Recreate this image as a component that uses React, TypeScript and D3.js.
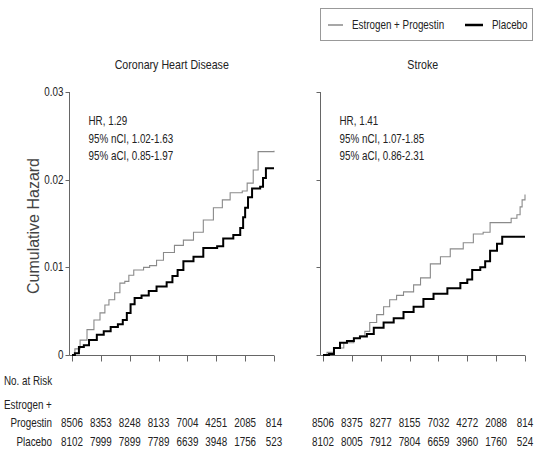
import React from 'react';
import * as d3 from 'd3';

// ---- Data (years, cumulative hazard) ----
const chdEstrogenProgestin: [number, number][] = [
  [0, 0], [0.1, 0.0007], [0.28, 0.0017], [0.52, 0.0029], [0.76, 0.004], [0.97, 0.0048],
  [1.14, 0.0057], [1.28, 0.0063], [1.48, 0.0071], [1.66, 0.0082], [1.83, 0.0084],
  [1.97, 0.0091], [2.14, 0.0097], [2.48, 0.01], [2.69, 0.0102], [2.93, 0.0108],
  [3.17, 0.0117], [3.55, 0.0125], [3.86, 0.0131], [4.21, 0.014], [4.55, 0.0154],
  [4.9, 0.0168], [5.21, 0.0177], [5.48, 0.0185], [5.9, 0.0187], [6.07, 0.0196],
  [6.28, 0.0211], [6.45, 0.0232], [7.0, 0.0233],
];
const chdPlacebo: [number, number][] = [
  [0, 0], [0.1, 0.0002], [0.24, 0.0009], [0.41, 0.0011], [0.59, 0.0017], [0.86, 0.0023],
  [1.1, 0.0027], [1.34, 0.0032], [1.59, 0.0035], [1.76, 0.004], [1.9, 0.0048],
  [2.03, 0.0058], [2.17, 0.0065], [2.41, 0.0068], [2.66, 0.0073], [2.93, 0.0078],
  [3.28, 0.0083], [3.48, 0.009], [3.66, 0.0097], [3.86, 0.0107], [4.21, 0.0112],
  [4.55, 0.0122], [5.03, 0.0124], [5.24, 0.0133], [5.59, 0.0137], [5.83, 0.0145],
  [5.93, 0.0157], [6.0, 0.0168], [6.1, 0.018], [6.24, 0.019], [6.52, 0.0192],
  [6.62, 0.0202], [6.72, 0.0213], [7.0, 0.0213],
];
const strokeEstrogenProgestin: [number, number][] = [
  [0, 0], [0.14, 0.0003], [0.38, 0.0008], [0.72, 0.0014], [1.07, 0.0019], [1.28, 0.0022],
  [1.45, 0.0027], [1.62, 0.0037], [1.86, 0.0046], [2.1, 0.0055], [2.31, 0.0063],
  [2.55, 0.0068], [2.79, 0.0072], [3.14, 0.008], [3.38, 0.0088], [3.72, 0.0104],
  [4.07, 0.0112], [4.41, 0.0121], [4.86, 0.0128], [5.21, 0.0138], [5.55, 0.014],
  [5.79, 0.0151], [6.41, 0.0151], [6.52, 0.0156], [6.72, 0.016], [6.83, 0.0169],
  [6.9, 0.0177], [7.0, 0.0183],
];
const strokePlacebo: [number, number][] = [
  [0, 0], [0.21, 0.0001], [0.38, 0.0008], [0.59, 0.0014], [0.83, 0.0016], [1.07, 0.0019],
  [1.28, 0.0021], [1.52, 0.0024], [1.76, 0.0031], [2.1, 0.0037], [2.45, 0.0042],
  [2.79, 0.0049], [3.14, 0.0055], [3.48, 0.0064], [3.83, 0.007], [4.31, 0.0076],
  [4.76, 0.0082], [5.0, 0.0086], [5.17, 0.0097], [5.45, 0.01], [5.62, 0.0107],
  [5.79, 0.0119], [6.03, 0.0127], [6.21, 0.0135], [7.0, 0.0135],
];

const years = [0, 1, 2, 3, 4, 5, 6, 7];
const yTicks = [0, 0.01, 0.02, 0.03];
const yTickLabels = ['0', '0.01', '0.02', '0.03'];

const chdRiskEP = [8506, 8353, 8248, 8133, 7004, 4251, 2085, 814];
const chdRiskPL = [8102, 7999, 7899, 7789, 6639, 3948, 1756, 523];
const strokeRiskEP = [8506, 8375, 8277, 8155, 7032, 4272, 2088, 814];
const strokeRiskPL = [8102, 8005, 7912, 7804, 6659, 3960, 1760, 524];

const chdStats = ['HR, 1.29', '95% nCI, 1.02-1.63', '95% aCI, 0.85-1.97'];
const strokeStats = ['HR, 1.41', '95% nCI, 1.07-1.85', '95% aCI, 0.86-2.31'];

const seriesNames = ['Estrogen + Progestin', 'Placebo'];

const FONT = "'Liberation Sans', Arial, Helvetica, sans-serif";
const AXIS = '#666';
const TEXT = '#222';
const GRAY = '#8a8a8a';
const NARROW = 0.82;

const yScale = d3.scaleLinear().domain([0, 0.03]).range([355, 92]);

type TProps = {
  x: number;
  y: number;
  size?: number;
  anchor?: 'start' | 'middle' | 'end';
  fill?: string;
  children: React.ReactNode;
};

function T({ x, y, size = 12, anchor = 'start', fill = TEXT, children }: TProps) {
  return (
    <text
      transform={`translate(${x},${y}) scale(${NARROW},1)`}
      fontSize={size}
      textAnchor={anchor}
      fill={fill}
      fontFamily={FONT}
    >
      {children}
    </text>
  );
}

type PanelProps = {
  axisX: number;
  x0: number;
  x1: number;
  title: string;
  stats: string[];
  ep: [number, number][];
  pl: [number, number][];
  riskEP: number[];
  riskPL: number[];
  showYLabels: boolean;
};

function Panel({ axisX, x0, x1, title, stats, ep, pl, riskEP, riskPL, showYLabels }: PanelProps) {
  const x = d3.scaleLinear().domain([0, 7]).range([x0, x1]);
  const line = d3
    .line<[number, number]>()
    .x((d) => x(d[0]))
    .y((d) => yScale(d[1]))
    .curve(d3.curveStepAfter);
  const baseY = yScale(0) + 0.5;
  return (
    <g>
      <T x={(axisX + x1) / 2} y={69} size={13} anchor="middle">
        {title}
      </T>
      {/* y axis */}
      <line x1={axisX} x2={axisX} y1={yScale(0.03)} y2={baseY} stroke={AXIS} strokeWidth={1} />
      {yTicks.map((t, i) => (
        <g key={i}>
          <line
            x1={axisX - 4}
            x2={axisX}
            y1={Math.round(yScale(t)) + 0.5}
            y2={Math.round(yScale(t)) + 0.5}
            stroke={AXIS}
          />
          {showYLabels && (
            <T x={axisX - 6} y={yScale(t) + 4} anchor="end">
              {yTickLabels[i]}
            </T>
          )}
        </g>
      ))}
      {/* x axis */}
      <line x1={axisX} x2={x(7)} y1={baseY} y2={baseY} stroke={AXIS} strokeWidth={1} />
      {years.map((yr) => (
        <line
          key={yr}
          x1={Math.round(x(yr)) + 0.5}
          x2={Math.round(x(yr)) + 0.5}
          y1={baseY}
          y2={baseY + 6}
          stroke={AXIS}
        />
      ))}
      {/* stats */}
      {stats.map((s, i) => (
        <T key={i} x={axisX + 19} y={125 + i * 17.5}>
          {s}
        </T>
      ))}
      {/* curves */}
      <path d={line(ep) || ''} fill="none" stroke={GRAY} strokeWidth={1.1} />
      <path d={line(pl) || ''} fill="none" stroke="#000" strokeWidth={2} />
      {/* numbers at risk */}
      {riskEP.map((n, i) => (
        <T key={'e' + i} x={x(years[i])} y={427} anchor="middle">
          {n}
        </T>
      ))}
      {riskPL.map((n, i) => (
        <T key={'p' + i} x={x(years[i])} y={446} anchor="middle">
          {n}
        </T>
      ))}
    </g>
  );
}

export default function App() {
  return (
    <svg
      width={535}
      height={449}
      viewBox="0 0 535 449"
      style={{ position: 'absolute', left: 0, top: 0, background: '#fff' }}
    >
      <rect x={0} y={0} width={535} height={449} fill="#fff" />
      {/* legend */}
      <rect x={320.5} y={8.5} width={212} height={32} fill="#fff" stroke="#999" strokeWidth={1} />
      <line x1={328} x2={343} y1={25} y2={25} stroke={GRAY} strokeWidth={1.5} />
      <T x={352} y={29}>{seriesNames[0]}</T>
      <line x1={465} x2={483} y1={25} y2={25} stroke="#000" strokeWidth={2.5} />
      <T x={492} y={29}>{seriesNames[1]}</T>

      {/* y axis title */}
      <text
        transform="translate(39,226) rotate(-90)"
        textAnchor="middle"
        fontSize={16}
        fill="#444"
        fontFamily={FONT}
      >
        Cumulative Hazard
      </text>

      <Panel
        axisX={69.5}
        x0={72}
        x1={274}
        title="Coronary Heart Disease"
        stats={chdStats}
        ep={chdEstrogenProgestin}
        pl={chdPlacebo}
        riskEP={chdRiskEP}
        riskPL={chdRiskPL}
        showYLabels={true}
      />
      <Panel
        axisX={320.5}
        x0={323}
        x1={525}
        title="Stroke"
        stats={strokeStats}
        ep={strokeEstrogenProgestin}
        pl={strokePlacebo}
        riskEP={strokeRiskEP}
        riskPL={strokeRiskPL}
        showYLabels={false}
      />

      {/* number at risk labels */}
      <T x={4} y={385}>No. at Risk</T>
      <T x={4} y={409}>Estrogen +</T>
      <T x={52} y={427} anchor="end">Progestin</T>
      <T x={52} y={446} anchor="end">Placebo</T>
    </svg>
  );
}
